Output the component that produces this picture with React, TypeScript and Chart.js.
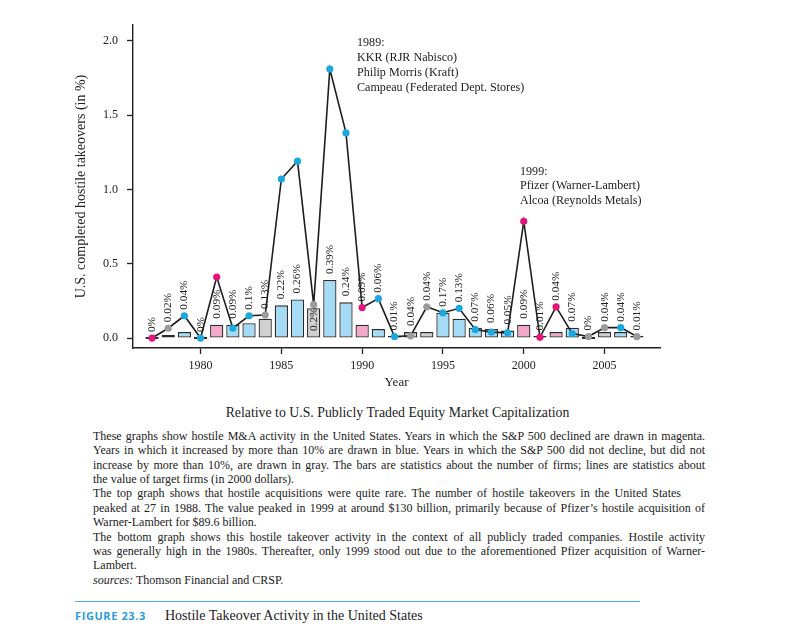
import React, { useEffect, useRef } from "react";
import { Chart, registerables } from "chart.js";

Chart.register(...registerables);

// ---------- data ----------
const years = [
  1977, 1978, 1979, 1980, 1981, 1982, 1983, 1984, 1985, 1986, 1987, 1988, 1989, 1990, 1991, 1992,
  1993, 1994, 1995, 1996, 1997, 1998, 1999, 2000, 2001, 2002, 2003, 2004, 2005, 2006, 2007,
];
// bars: number of firms (in %)
const barValues = [
  0, 0.02, 0.04, 0, 0.09, 0.09, 0.1, 0.13, 0.22, 0.26, 0.2, 0.39, 0.24, 0.09, 0.06, 0.01,
  0.04, 0.04, 0.17, 0.13, 0.07, 0.06, 0.05, 0.09, 0.01, 0.04, 0.07, 0, 0.04, 0.04, 0.01,
];
// line: value of target firms (in %)
const lineValues = [
  0, 0.066, 0.15, 0, 0.41, 0.066, 0.15, 0.155, 1.07, 1.19, 0.225, 1.81, 1.38, 0.205, 0.265, 0.01,
  0.015, 0.21, 0.17, 0.2, 0.057, 0.04, 0.035, 0.785, 0.005, 0.21, 0.03, 0.01, 0.07, 0.07, 0.01,
];
// m = S&P 500 declined, b = increased > 10%, g = otherwise
const colorGroups = [
  "m", "g", "b", "b", "m", "b", "b", "g", "b", "b", "g", "b", "b", "m", "b", "b",
  "g", "g", "b", "b", "b", "b", "b", "m", "m", "m", "b", "g", "g", "b", "g",
];
const yTicks = [0, 0.5, 1.0, 1.5, 2.0];
const xTicks = [1980, 1985, 1990, 1995, 2000, 2005];
const labelsInsideBar = [1987];

const note1989 = ["1989:", "KKR (RJR Nabisco)", "Philip Morris (Kraft)", "Campeau (Federated Dept. Stores)"];
const note1999 = ["1999:", "Pfizer (Warner-Lambert)", "Alcoa (Reynolds Metals)"];

const subtitle = "Relative to U.S. Publicly Traded Equity Market Capitalization";
// [text, justified, line width]
const captionLines: [string, boolean, number][] = [
  ["These graphs show hostile M&A activity in the United States. Years in which the S&P 500 declined are drawn in magenta.", true, 612],
  ["Years in which it increased by more than 10% are drawn in blue. Years in which the S&P 500 did not decline, but did not", true, 612],
  ["increase by more than 10%, are drawn in gray. The bars are statistics about the number of firms; lines are statistics about", true, 612],
  ["the value of target firms (in 2000 dollars).", false, 612],
  ["The top graph shows that hostile acquisitions were quite rare. The number of hostile takeovers in the United States", true, 588],
  ["peaked at 27 in 1988. The value peaked in 1999 at around $130 billion, primarily because of Pfizer\u2019s hostile acquisition of", true, 612],
  ["Warner-Lambert for $89.6 billion.", false, 612],
  ["The bottom graph shows this hostile takeover activity in the context of all publicly traded companies. Hostile activity", true, 612],
  ["was generally high in the 1980s. Thereafter, only 1999 stood out due to the aforementioned Pfizer acquisition of Warner-", true, 612],
  ["Lambert.", false, 612],
];
const sourcesLabel = "sources:";
const sourcesText = " Thomson Financial and CRSP.";
const figureNumber = "FIGURE 23.3";
const figureTitle = "Hostile Takeover Activity in the United States";

// ---------- styles ----------
const SERIF = "'Liberation Serif', 'DejaVu Serif', serif";
const barFill: Record<string, string> = { m: "#f3a7c9", b: "#a5dbf4", g: "#d0d0d0" };
const pointFill: Record<string, string> = { m: "#e2157c", b: "#1ca8de", g: "#9b9b9b" };

const fmt = (v: number) => String(v) + "%";

const valueLabelPlugin = {
  id: "valueLabels",
  afterDatasetsDraw(chart: any) {
    const { ctx } = chart;
    const x = chart.scales.x;
    const y = chart.scales.y;
    ctx.save();
    ctx.font = `11.3px ${SERIF}`;
    ctx.fillStyle = "#222";
    ctx.textAlign = "left";
    ctx.textBaseline = "middle";
    years.forEach((yr, i) => {
      const px = x.getPixelForValue(yr);
      const barTop = y.getPixelForValue(barValues[i]);
      const pt = y.getPixelForValue(lineValues[i]);
      let base: number;
      if (labelsInsideBar.includes(yr)) base = y.getPixelForValue(0) - 7;
      else if (lineValues[i] - barValues[i] > 0.3) base = barTop - 6;
      else base = Math.min(barTop, pt) - 6;
      ctx.save();
      ctx.translate(px, base);
      ctx.rotate(-Math.PI / 2);
      ctx.fillText(fmt(barValues[i]), 0, 0);
      ctx.restore();
    });
    ctx.restore();
  },
};

function HostileChart() {
  const ref = useRef<HTMLCanvasElement | null>(null);
  useEffect(() => {
    if (!ref.current) return;
    const chart = new Chart(ref.current, {
      type: "bar",
      data: {
        datasets: [
          {
            type: "line",
            data: years.map((yr, i) => ({ x: yr, y: lineValues[i] })),
            borderColor: "#1e1e1e",
            borderWidth: 1.6,
            tension: 0,
            pointRadius: 3.6,
            pointBorderWidth: 0,
            pointBackgroundColor: colorGroups.map((g) => pointFill[g]),
            order: 0,
          } as any,
          {
            type: "bar",
            data: years.map((yr, i) => ({ x: yr, y: barValues[i] })),
            backgroundColor: colorGroups.map((g) => barFill[g]),
            borderColor: "#2a2a2a",
            borderWidth: 1.3,
            borderSkipped: false,
            minBarLength: 2,
            barPercentage: 0.82,
            categoryPercentage: 1,
            order: 1,
          } as any,
        ],
      },
      options: {
        responsive: false,
        animation: false,
        layout: { padding: { left: 70, top: 25, right: 133, bottom: 2 } },
        plugins: { legend: { display: false }, tooltip: { enabled: false } },
        scales: {
          x: {
            type: "linear",
            min: 1975.82,
            max: 2008.43,
            offset: false,
            afterBuildTicks: (s: any) => {
              s.ticks = xTicks.map((v) => ({ value: v }));
            },
            afterFit: (s: any) => {
              s.height = 46;
            },
            grid: { display: true, drawOnChartArea: false, drawTicks: true, tickLength: 6, tickColor: "#222", tickWidth: 1.3, offset: false },
            border: { display: true, color: "#222", width: 1.4 },
            ticks: {
              color: "#222",
              padding: 5,
              font: { family: SERIF, size: 12 },
              maxRotation: 0,
              callback: (v: any) => String(v),
            },
            title: { display: true, text: "Year", color: "#222", font: { family: SERIF, size: 13 } },
          },
          y: {
            type: "linear",
            min: -0.067,
            max: 2.106,
            afterBuildTicks: (s: any) => {
              s.ticks = yTicks.map((v) => ({ value: v }));
            },
            afterFit: (s: any) => {
              s.width = 63;
            },
            grid: { display: true, drawOnChartArea: false, drawTicks: true, tickLength: 6, tickColor: "#222", tickWidth: 1.3 },
            border: { display: true, color: "#222", width: 1.4 },
            ticks: {
              color: "#222",
              padding: 9,
              font: { family: SERIF, size: 12 },
              callback: (v: any) => Number(v).toFixed(1),
            },
            title: {
              display: true,
              text: "U.S. completed hostile takeovers (in %)",
              color: "#222",
              padding: { top: 3, bottom: 4 },
              font: { family: SERIF, size: 14 },
            },
          },
        },
      },
      plugins: [valueLabelPlugin],
    });
    return () => chart.destroy();
  }, []);
  return <canvas ref={ref} width={793} height={396} style={{ display: "block", width: 793, height: 396 }} />;
}

const noteStyle: React.CSSProperties = {
  position: "absolute",
  fontFamily: SERIF,
  fontSize: 12.1,
  color: "#222",
  whiteSpace: "nowrap",
};

export default function App() {
  return (
    <div style={{ position: "absolute", left: 0, top: 0, width: 793, height: 635, background: "#fff", overflow: "hidden" }}>
      <HostileChart />
      <div style={{ ...noteStyle, left: 357, top: 34.5, lineHeight: "15px" }}>
        {note1989.map((t) => (
          <div key={t}>{t}</div>
        ))}
      </div>
      <div style={{ ...noteStyle, left: 520, top: 163.5, lineHeight: "14.5px" }}>
        {note1999.map((t) => (
          <div key={t}>{t}</div>
        ))}
      </div>
      <div
        style={{
          position: "absolute",
          left: 0,
          width: 793,
          top: 403,
          textAlign: "center",
          fontFamily: SERIF,
          fontSize: 13.8,
          lineHeight: "19px",
          color: "#222",
          paddingLeft: 2,
          boxSizing: "border-box",
        }}
      >
        {subtitle}
      </div>
      <div style={{ position: "absolute", left: 93, top: 428.8, width: 612, fontFamily: SERIF, fontSize: 12, lineHeight: "14.4px", color: "#222" }}>
        {captionLines.map(([t, j, w], i) => (
          <div key={i} style={{ width: w, textAlign: j ? "justify" : "left", textAlignLast: j ? "justify" : "left", whiteSpace: "nowrap" } as any}>
            {t}
          </div>
        ))}
        <div>
          <i>{sourcesLabel}</i>
          {sourcesText}
        </div>
      </div>
      <div style={{ position: "absolute", left: 75, top: 601, width: 565, height: 0, borderTop: "1.5px solid #4fb0e0" }} />
      <div
        style={{
          position: "absolute",
          left: 75,
          top: 608,
          fontFamily: "'Open Sans', 'Noto Sans', sans-serif",
          fontWeight: 700,
          fontSize: 11,
          letterSpacing: 0.6,
          color: "#2c9cd8",
          lineHeight: "16px",
        }}
      >
        {figureNumber}
      </div>
      <div style={{ position: "absolute", left: 165, top: 607, fontFamily: SERIF, fontSize: 14, color: "#222", lineHeight: "18px", whiteSpace: "nowrap" }}>
        {figureTitle}
      </div>
    </div>
  );
}
